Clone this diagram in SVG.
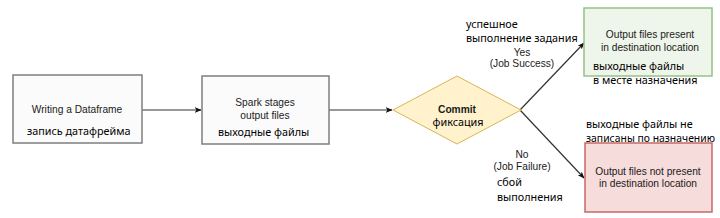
<svg xmlns="http://www.w3.org/2000/svg" width="720" height="218" viewBox="0 0 720 218">
<style>
.en{font-family:"Liberation Sans",Arial,sans-serif;font-size:10.2px;fill:#1a1a1a;text-anchor:middle}
.b{font-weight:bold}
.ru{font-family:"Noto Sans","DejaVu Sans",sans-serif;font-size:10.8px;fill:#000}
.box{fill:#fbfbfb;stroke:#7f7f7f;stroke-width:1.5}
.line{stroke:#333;stroke-width:1.2;fill:none}
</style>
<defs>
<marker id="ah" viewBox="0 0 10 10" refX="9" refY="5" markerWidth="7" markerHeight="7" orient="auto" markerUnits="userSpaceOnUse">
<path d="M0,1 L10,5 L0,9 L2.5,5 Z" fill="#111"/>
</marker>
</defs>
<rect width="720" height="218" fill="#fff"/>
<g id="connectors">
<line class="line" x1="142" y1="110" x2="201" y2="110" marker-end="url(#ah)"/>
<line class="line" x1="329" y1="110" x2="392" y2="110" marker-end="url(#ah)"/>
<line class="line" x1="520" y1="110" x2="584" y2="43" marker-end="url(#ah)"/>
<line class="line" x1="520" y1="110" x2="584" y2="178" marker-end="url(#ah)"/>
<text class="en" x="522" y="56">Yes</text>
<text class="en" x="522" y="67">(Job Success)</text>
<text class="en" x="522" y="158">No</text>
<text class="en" x="522" y="170">(Job Failure)</text>
<text class="ru" x="466" y="28">успешное</text>
<text class="ru" x="466" y="42">выполнение задания</text>
<text class="ru" x="497" y="186">сбой</text>
<text class="ru" x="497" y="201">выполнения</text>
</g>
<g id="write">
<rect class="box" x="13" y="75" width="129" height="68"/>
<text class="en" x="77" y="113">Writing a Dataframe</text>
<text class="ru" x="27" y="135">запись датафрейма</text>
</g>
<g id="spark">
<rect class="box" x="202" y="76" width="127" height="68"/>
<text class="en" x="265" y="106">Spark stages</text>
<text class="en" x="265" y="119">output files</text>
<text class="ru" x="218" y="136">выходные файлы</text>
</g>
<g id="commit">
<polygon points="393,110 457,76 521,110 457,144" fill="#fff2cc" stroke="#d6b656" stroke-width="1"/>
<text class="en b" x="457" y="113">Commit</text>
<text class="ru" x="458" y="126" text-anchor="middle">фиксация</text>
</g>
<g id="success">
<rect x="584" y="8" width="128" height="68" fill="#eef5ea" stroke="#97c287" stroke-width="1.5"/>
<text class="en" x="650" y="38">Output files present</text>
<text class="en" x="650" y="51">in destination location</text>
<text class="ru" x="593" y="70">выходные файлы</text>
<text class="ru" x="593" y="84">в месте назначения</text>
</g>
<g id="failure">
<rect x="585" y="143" width="127" height="69" fill="#f7dcdc" stroke="#c66a67" stroke-width="1.5"/>
<text class="en" x="648" y="175">Output files not present</text>
<text class="en" x="648" y="187">in destination location</text>
<text class="ru" x="586" y="128">выходные файлы не</text>
<text class="ru" x="586" y="142" textLength="129" lengthAdjust="spacingAndGlyphs">записаны по назначению</text>
</g>
</svg>
